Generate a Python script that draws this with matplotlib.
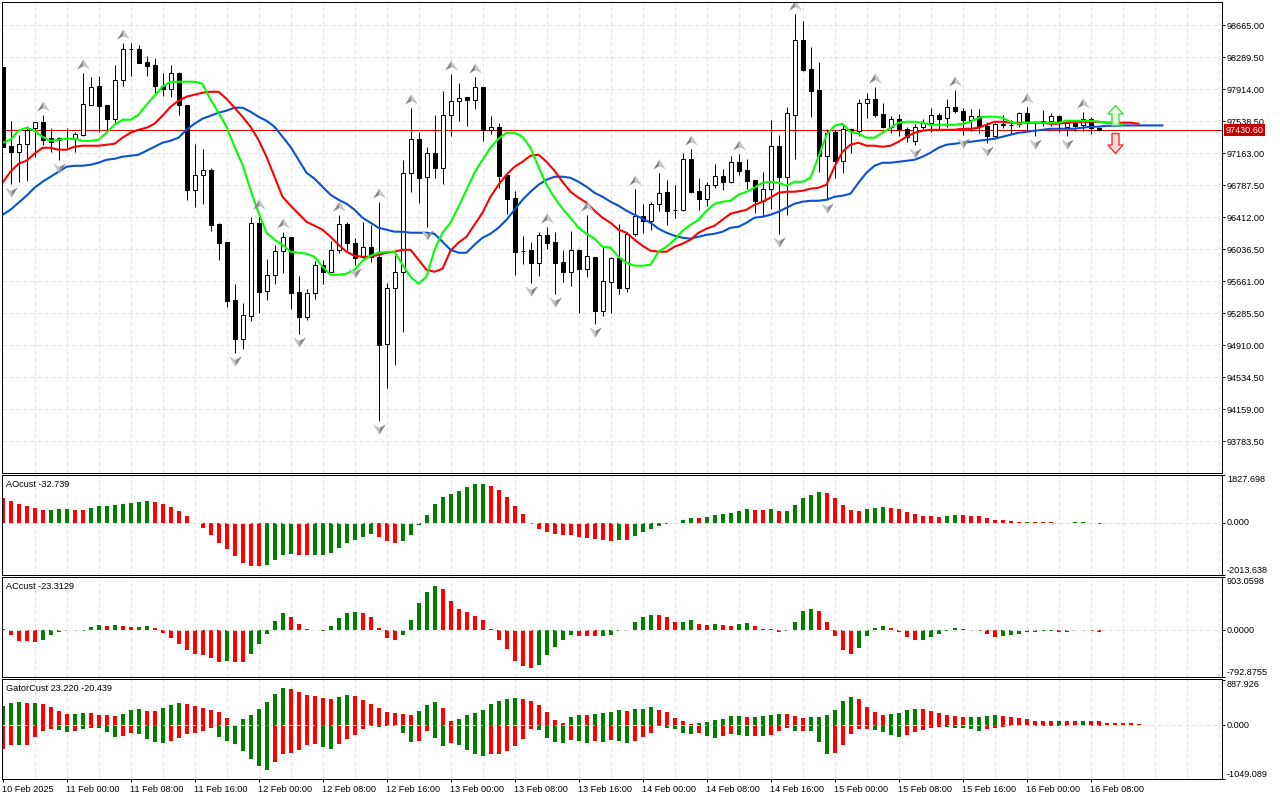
import numpy as np
import matplotlib
matplotlib.use('Agg')
import matplotlib.pyplot as plt
from matplotlib.path import Path

plt.rcParams['font.family'] = ['Liberation Sans', 'DejaVu Sans']

# --- OHLC, hourly bars ---
opens = [
    98177,97250,97179,97273,97461,97531,97344,97320,97340,97332,
    97379,97731,97954,97731,97567,98024,98388,98388,98235,98200,
    97954,97919,98106,97731,96733,96910,96968,96335,96123,95443,
    94985,95255,96346,95548,95736,96018,96182,95537,95243,95525,
    95853,95771,96029,96335,96112,95947,96065,95947,94926,95584,
    95771,96933,97332,96886,97168,96992,97614,97778,97825,97790,
    97942,97437,97473,96910,96640,96018,96029,95877,96205,96123,
    95889,95771,96029,95806,95947,95314,95654,95936,95584,96217,
    96428,96370,96569,96710,96499,96499,97097,96722,96628,96792,
    96898,96827,97062,96968,96851,96604,96745,97250,96886,97614,
    98494,98153,97907,97133,97414,97074,97449,97426,97754,97801,
    97625,97473,97567,97449,97308,97473,97520,97614,97578,97707,
    97661,97555,97602,97484,97367,97496,97496,97508,97637,97520,
    97543,97543,97602,97473,97520,97496,97567,97455]
highs = [
    98177,97543,97379,97484,97531,97614,97461,97355,97461,97414,
    98106,98059,98071,97731,98200,98458,98458,98435,98306,98282,
    98106,98200,98118,97731,97273,97215,96992,96346,96123,95631,
    95408,96417,96464,95924,96088,96241,96182,95724,95572,95900,
    95912,96135,96440,96358,96170,96358,96323,96593,95642,95971,
    97085,97696,97414,97238,97614,97895,98095,97989,97825,98059,
    97942,97602,97520,96910,96722,96194,96123,96241,96299,96241,
    96029,96252,96041,96440,95947,96065,95947,96335,96241,96745,
    96569,96593,96933,96851,96792,97168,97215,96874,96827,97039,
    96980,97133,97156,97097,96851,96945,97555,97379,97707,98799,
    98717,98411,98235,97449,97437,97496,97461,97801,97872,97942,
    97754,97602,97625,97473,97508,97567,97696,97637,97801,97907,
    97696,97684,97684,97531,97520,97614,97555,97649,97707,97543,
    97672,97637,97614,97531,97543,97649,97590,97461]
lows = [
    97238,96804,96827,96839,97121,97262,97179,97085,97226,97179,
    97367,97731,97414,97426,97508,97954,98071,98224,98071,97872,
    97837,97825,97614,96616,96534,96569,96252,95912,95361,94821,
    94868,95196,95290,95443,95631,95760,95337,95044,95208,95455,
    95631,95771,95994,96029,95853,95936,95889,94023,94410,94680,
    95067,96710,96581,96299,96874,96804,97367,97543,97484,97684,
    97308,97391,96757,96452,95736,95865,95642,95724,96041,95513,
    95654,95607,95290,95713,95161,95255,95290,95513,95537,96194,
    96229,96264,96487,96323,96405,96487,96698,96499,96546,96757,
    96733,96816,96910,96745,96464,96417,96511,96217,96440,97097,
    98130,97590,96945,96616,96874,96933,97168,97367,97578,97590,
    97461,97402,97367,97297,97262,97449,97414,97449,97473,97637,
    97379,97426,97402,97285,97344,97461,97391,97473,97414,97367,
    97484,97484,97414,97367,97426,97426,97391,97426]
closes = [
    97238,97179,97273,97437,97531,97320,97297,97344,97336,97391,
    97743,97942,97719,97567,98024,98388,98382,98224,98189,97954,
    97919,98106,97731,96733,96910,96968,96323,96112,95431,94985,
    95267,96346,95537,95736,96018,96182,95525,95243,95525,95853,
    95771,96029,96335,96112,95936,96065,95947,94915,95584,95771,
    96933,97332,96874,97168,96992,97614,97778,97813,97790,97942,
    97437,97473,96898,96628,96006,96012,95877,96205,96112,95877,
    95771,96029,95806,95959,95314,95666,95936,95584,96217,96428,
    96370,96569,96698,96487,96493,97097,96710,96628,96792,96898,
    96827,97062,96957,96839,96604,96745,97250,96886,97637,98494,
    98142,97895,97133,97402,97074,97449,97426,97754,97801,97614,
    97473,97567,97449,97355,97473,97520,97614,97567,97707,97661,
    97555,97602,97484,97367,97508,97502,97490,97637,97520,97514,
    97520,97602,97520,97520,97484,97567,97461,97430.6]

# --- alligator lines ---
lips = [
    97285,97320,97426,97461,97426,97355,97308,97320,97332,97332,
    97308,97308,97320,97402,97496,97555,97555,97614,97731,97837,
    97942,98001,98001,98001,98001,97977,97790,97637,97473,97238,
    97027,96733,96464,96229,96147,96088,96006,95994,95983,95947,
    95830,95736,95736,95748,95795,95900,95959,95994,96006,96006,
    95853,95713,95631,95713,96029,96229,96346,96534,96733,96933,
    97085,97226,97332,97402,97402,97355,97226,97003,96792,96640,
    96511,96405,96288,96217,96159,96065,96053,95947,95877,95842,
    95842,95853,96006,96065,96147,96252,96323,96381,96487,96569,
    96593,96604,96675,96710,96757,96816,96827,96816,96780,96827,
    96827,96874,97121,97379,97484,97508,97414,97391,97344,97344,
    97402,97461,97520,97531,97531,97520,97496,97496,97496,97496,
    97508,97531,97578,97590,97590,97578,97531,97508,97520,97520,
    97520,97520,97520,97543,97543,97543,97543,97531,97520,97520,97496]
teeth = [
    96816,96945,97039,97074,97156,97226,97226,97203,97203,97238,
    97250,97250,97250,97262,97273,97344,97402,97437,97461,97508,
    97602,97707,97778,97825,97848,97872,97883,97883,97801,97696,
    97590,97473,97320,97121,96886,96651,96546,96452,96358,96311,
    96264,96182,96088,96006,95959,95947,95947,95971,95994,96006,
    96029,96029,95912,95795,95771,95806,96018,96112,96182,96323,
    96464,96651,96792,96910,97003,97062,97133,97144,97062,96957,
    96827,96710,96640,96581,96487,96405,96346,96264,96229,96147,
    96076,96018,96006,96006,96065,96100,96147,96229,96276,96311,
    96381,96452,96475,96499,96557,96593,96640,96698,96710,96710,
    96722,96745,96757,96792,97003,97179,97262,97285,97250,97250,
    97238,97250,97297,97355,97402,97426,97437,97437,97437,97437,
    97449,97449,97461,97496,97531,97531,97520,97520,97520,97520,
    97520,97508,97508,97520,97531,97531,97531,97531,97520,97520,97520,97520,97508]
jaw = [
    96440,96499,96581,96663,96757,96827,96886,96945,97003,97015,
    97015,97027,97050,97085,97097,97121,97133,97144,97191,97238,
    97285,97308,97344,97437,97508,97567,97602,97637,97661,97696,
    97696,97649,97590,97543,97473,97355,97238,97085,96933,96863,
    96769,96675,96616,96569,96499,96405,96346,96288,96264,96241,
    96241,96229,96229,96229,96217,96123,96029,95994,95994,96088,
    96170,96217,96288,96381,96499,96616,96710,96792,96851,96886,
    96886,96874,96827,96769,96698,96651,96593,96546,96487,96440,
    96393,96346,96276,96229,96194,96170,96159,96182,96205,96217,
    96241,96288,96299,96346,96405,96417,96440,96475,96522,96569,
    96593,96604,96604,96616,96651,96663,96687,96816,96933,97015,
    97050,97050,97062,97074,97085,97121,97168,97226,97262,97273,
    97285,97297,97308,97320,97332,97355,97379,97402,97414,97426,
    97437,97449,97449,97449,97449,97461,97473,97473,97484,97484,
    97488,97488,97488,97488,97488,97488]

last_price = 97430.60

# --- fractal arrows, signal arrows ---
fractal_up = [5,10,15,32,35,42,47,51,56,59,68,73,79,82,86,92,99,109,119,128,135]
fractal_down = [1,7,29,37,44,47,53,66,69,74,97,103,114,120,123,129,133]
signal_bar = 139
signal_up_price = 97610
signal_down_price = 97280

# --- AO ---
ao_values = [
    964,848,732,655,578,501,501,540,540,501,
    501,578,655,655,694,732,771,810,848,810,
    732,617,463,270,-15,-193,-463,-771,-1002,-1272,
    -1542,-1658,-1658,-1619,-1426,-1234,-1195,-1234,-1234,-1234,
    -1234,-1157,-964,-771,-655,-540,-424,-540,-694,-771,
    -694,-463,-64,308,732,1002,1118,1234,1388,1503,
    1503,1426,1272,1002,655,347,-39,-231,-347,-424,
    -463,-463,-540,-578,-617,-655,-694,-655,-655,-501,
    -347,-231,-116,-26,-20,116,193,193,231,308,
    347,385,463,540,501,501,540,463,463,694,
    964,1079,1195,1157,964,694,501,463,540,578,
    617,578,540,424,347,270,270,231,270,308,
    308,270,270,193,116,116,77,39,39,35,
    35,35,-20,-15,30,30,-15,-32.739]
ao_colors = ("rrrrrrgggr" "rggggggggr" "rrrrrrrrrr" "rrrggggrrg" "gggggggrrr"
             "gggggggggg" "grrrrrrrrr" "rrrrrrrgrg" "gggggggrgg" "ggggrrgrgg"
             "gggrrrrrgg" "grrrrrrrgg" "rrrrrrrrgr" "rrrrggrr")

# --- AC ---
ac_values = [
    28,-85,-187,-187,-204,-170,-85,-34,-10,-8,
    -5,51,85,68,85,68,51,51,68,34,
    -51,-136,-238,-340,-408,-425,-476,-544,-527,-544,
    -544,-408,-238,-68,153,289,221,102,17,7,
    -5,68,204,289,306,289,221,34,-136,-170,
    -85,170,459,646,748,697,493,357,306,238,
    170,17,-170,-323,-527,-612,-646,-595,-425,-289,
    -170,-85,-102,-102,-102,-102,-85,-8,-6,136,
    221,255,255,221,136,136,170,102,85,102,
    85,68,102,119,68,17,17,-34,-8,136,
    323,357,323,136,-102,-340,-408,-306,-102,34,
    68,34,-34,-119,-170,-170,-119,-68,-6,34,
    17,-5,-5,-68,-119,-102,-85,-68,-34,-34,
    -6,-6,-34,-23,-5,-5,-4,-23.3129]
ac_colors = ("rrrrrggggr" "gggrgrrggr" "rrrrrrrrgr" "rgggggrrrr" "gggggrrrrr"
             "gggggrrrrr" "rrrrrrrggg" "ggrrrggggg" "ggrrrggrrg" "rrggrrrrgg"
             "ggrrrrrggg" "grrrrggggg" "rrrrrggggg" "ggrgggrr")

# --- Gator ---
gator_up = [
    381,440,460,440,440,420,361,283,223,223,
    243,243,204,204,184,223,302,322,283,283,
    342,401,440,420,381,342,302,263,145,7,
    125,204,322,460,618,736,716,657,598,578,
    539,519,558,598,578,499,420,342,263,243,
    223,204,283,401,460,342,85,125,204,243,
    302,420,480,519,539,519,480,401,263,105,
    46,164,204,204,223,243,263,302,283,322,
    322,361,302,263,145,85,26,46,66,105,
    125,184,184,164,164,184,204,223,223,184,
    145,164,164,204,302,480,558,519,361,263,
    204,223,243,302,322,322,283,243,204,184,
    164,164,164,184,204,184,164,145,125,85,
    85,85,85,85,85,85,85,85,39,39,39,46,23.22]
gator_up_colors = ("gggrgrrrrg" "grrrrgggrr" "gggrrrrrrg" "ggggggrrrr" "rrggrrrrrr"
                   "rrgggrrggg" "gggggrrrrr" "rggrggggrg" "ggrrrrrggg" "gggrggggrr"
                   "rggggggrrr" "rggggrrrrr" "rggggrrrrr" "rrgrrgrrrrrrr")
gator_down = [
    -466,-388,-388,-388,-230,-112,-72,-92,-131,-112,
    -72,-53,-53,-131,-230,-210,-151,-171,-269,-329,
    -348,-309,-250,-171,-151,-112,-53,-230,-309,-368,
    -506,-664,-802,-880,-723,-565,-545,-486,-388,-368,
    -427,-466,-368,-269,-191,-72,-13,-33,-13,-13,
    -151,-329,-309,-112,-250,-407,-348,-388,-486,-565,
    -604,-565,-565,-506,-407,-269,-72,-92,-250,-329,
    -348,-289,-309,-348,-309,-329,-289,-309,-348,-309,
    -230,-151,-13,-53,-72,-151,-171,-151,-210,-250,
    -210,-171,-191,-210,-210,-210,-191,-112,-53,-112,
    -112,-112,-329,-565,-545,-388,-171,-72,-72,-92,
    -131,-191,-230,-191,-131,-92,-53,-33,-33,-53,
    -53,-72,-112,-72,-53,-33,-13,-13,-20,-20,
    -20,-20,-20,-20,-20,-20,-20,-20.439]
gator_down_colors = ("rrgrrrrggr" "grgggrrggg" "grrrrrrggg" "ggggrrrrrr" "ggrrrrrgrr"
                     "ggrrggrggg" "grrrrrrggg" "grggrgrggr" "rrrggggrgg" "rrggrgrrrg"
                     "rgggrrrrrg" "gggrrrrrgg" "gggrrrrggg" "rgrrgggg")

# --- axis labels ---
price_ticks = [98665.0, 98289.5, 97914.0, 97538.5, 97163.0, 96787.5, 96412.0,
               96036.5, 95661.0, 95285.5, 94910.0, 94534.5, 94159.0, 93783.5]
ao_ticks = [1827.698, 0, -2013.638]
ao_tick_labels = ['1827.698', '0.000', '-2013.638']
ac_ticks = [903.0598, 0, -792.8755]
ac_tick_labels = ['903.0598', '0.0000', '-792.8755']
gator_ticks = [887.926, 0, -1049.089]
gator_tick_labels = ['887.926', '0.000', '-1049.089']
time_ticks = list(range(0, 137, 8))
time_labels = ['10 Feb 2025', '11 Feb 00:00', '11 Feb 08:00', '11 Feb 16:00', '12 Feb 00:00',
               '12 Feb 08:00', '12 Feb 16:00', '13 Feb 00:00', '13 Feb 08:00', '13 Feb 16:00',
               '14 Feb 00:00', '14 Feb 08:00', '14 Feb 16:00', '15 Feb 00:00', '15 Feb 08:00',
               '15 Feb 16:00', '16 Feb 00:00', '16 Feb 08:00']

W, H = 1280, 800
PX = 0.72  # one pixel in points at dpi 100
LABEL_SIZE = 6.6
GRID = '#e2e2e2'
BAR_RED = '#ff0000'
BAR_GREEN = '#008000'
DASH = (0, (4, 3))
XLIM = (-0.025, 152.475)

# arrow shapes used for the fractals
up_left = Path([(0, 0.8), (-1, -0.8), (0, -0.25), (0, 0.8)], closed=True)
up_right = Path([(0, 0.8), (0, -0.25), (1, -0.8), (0, 0.8)], closed=True)
down_left = Path([(0, -0.8), (-1, 0.8), (0, 0.25), (0, -0.8)], closed=True)
down_right = Path([(0, -0.8), (0, 0.25), (1, 0.8), (0, -0.8)], closed=True)
signal_up = Path([(0, 1), (0.75, 0.15), (0.35, 0.15), (0.35, -1), (-0.35, -1), (-0.35, 0.15),
                  (-0.75, 0.15), (0, 1)], closed=True)
signal_down = Path([(0, -1), (0.75, -0.15), (0.35, -0.15), (0.35, 1), (-0.35, 1), (-0.35, -0.15),
                    (-0.75, -0.15), (0, -1)], closed=True)


def add_panel(fig, top, bottom, left=2.3, right=1222.3):
    ax = fig.add_axes([left / W, 1 - bottom / H, (right - left) / W, (bottom - top) / H])
    ax.set_xlim(*XLIM)
    for spine in ax.spines.values():
        spine.set_linewidth(PX)
        spine.set_color('black')
        spine.set_zorder(10)
    ax.yaxis.tick_right()
    ax.tick_params(axis='y', length=2.2, width=PX, pad=1.2, labelsize=LABEL_SIZE, colors='black')
    ax.set_xticks([])
    # vertical grid, every 4 bars
    for x in range(4, 153, 4):
        ax.axvline(x, color=GRID, lw=PX, ls=DASH, zorder=0)
    return ax


def draw_hist(ax, values, colors, width=0.5):
    assert len(values) == len(colors)
    xs = np.arange(len(values))
    cols = [BAR_RED if c == 'r' else BAR_GREEN for c in colors]
    ax.bar(xs, values, width=width, color=cols, linewidth=0, zorder=2)


def set_panel_ticks(ax, ticks, labels):
    ax.set_yticks(ticks)
    ax.set_yticklabels(labels)
    for lbl, va in zip(ax.get_yticklabels(), ['top', 'center', 'bottom']):
        lbl.set_va(va)
    ax.axhline(0, color=GRID, lw=PX, ls=DASH, zorder=3)


def panel_title(ax, text):
    ax.annotate(text, xy=(0, 1), xycoords='axes fraction', xytext=(2.6, -3.4),
                textcoords='offset points', va='top', ha='left', fontsize=LABEL_SIZE, zorder=11)


fig = plt.figure(figsize=(W / 100, H / 100), dpi=100, facecolor='white')

# --- main chart ---
ax = add_panel(fig, 2.3, 473.3)
ax.set_ylim(93406, 98933)
for p in price_ticks:
    ax.axhline(p, color=GRID, lw=PX, ls=DASH, zorder=0)
ax.axhline(last_price, color='#e00000', lw=PX, zorder=1)

xs = np.arange(len(opens))
o, h, l, c = map(np.array, (opens, highs, lows, closes))
assert len(o) == len(h) == len(l) == len(c)
ax.vlines(xs, l, h, color='black', lw=PX, zorder=2)
body_cols = ['white' if cc >= oo else 'black' for oo, cc in zip(o, c)]
ax.bar(xs, np.abs(c - o), bottom=np.minimum(o, c), width=0.5, color=body_cols,
       edgecolor='black', linewidth=PX, zorder=3)

ax.plot(np.arange(len(jaw)), jaw, color='#0a50d2', lw=1.5, zorder=4, solid_joinstyle='round')
ax.plot(np.arange(len(teeth)), teeth, color='#ff0000', lw=1.5, zorder=5, solid_joinstyle='round')
ax.plot(np.arange(len(lips)), lips, color='#00ff00', lw=1.5, zorder=6, solid_joinstyle='round')

up_y = h[fractal_up] + 106
down_y = l[fractal_down] - 94
ax.scatter(fractal_up, up_y, marker=up_left, s=85, color='#8a8a8a', linewidths=0, zorder=7)
ax.scatter(fractal_up, up_y, marker=up_right, s=85, color='#c2c6cc', linewidths=0, zorder=7)
ax.scatter(fractal_down, down_y, marker=down_left, s=85, color='#c2c6cc', linewidths=0, zorder=7)
ax.scatter(fractal_down, down_y, marker=down_right, s=85, color='#8a8a8a', linewidths=0, zorder=7)

ax.scatter([signal_bar], [signal_up_price], marker=signal_up, s=207, facecolor='#eafbe6',
           edgecolor='#45dc45', linewidths=1.0, zorder=8)
ax.scatter([signal_bar], [signal_down_price], marker=signal_down, s=207, facecolor='#ffdcdc',
           edgecolor='#ff2a2a', linewidths=1.0, zorder=8)

ax.set_yticks(price_ticks)
ax.set_yticklabels([f'{p:.2f}' for p in price_ticks])
ax.annotate(f'{last_price:.2f}', xy=(1, last_price), xycoords=ax.get_yaxis_transform(),
            xytext=(2.4, 0), textcoords='offset points', va='center', ha='left',
            fontsize=LABEL_SIZE, color='white', annotation_clip=False, zorder=20,
            bbox=dict(boxstyle='square,pad=0.18', fc='#c40000', ec='none'))

# --- AO ---
ax1 = add_panel(fig, 475.3, 575.3)
ax1.set_ylim(-2016, 1835)
draw_hist(ax1, ao_values, ao_colors)
set_panel_ticks(ax1, ao_ticks, ao_tick_labels)
panel_title(ax1, 'AOcust -32.739')

# --- AC ---
ax2 = add_panel(fig, 577.3, 677.3)
ax2.set_ylim(-797, 903.5)
draw_hist(ax2, ac_values, ac_colors)
set_panel_ticks(ax2, ac_ticks, ac_tick_labels)
panel_title(ax2, 'ACcust -23.3129')

# --- Gator ---
ax3 = add_panel(fig, 679.3, 779.3)
ax3.set_ylim(-1064, 902)
draw_hist(ax3, gator_up, gator_up_colors)
draw_hist(ax3, gator_down, gator_down_colors)
set_panel_ticks(ax3, gator_ticks, gator_tick_labels)
panel_title(ax3, 'GatorCust 23.220 -20.439')
ax3.set_xticks(time_ticks)
ax3.set_xticklabels(time_labels, ha='left')
ax3.tick_params(axis='x', length=2.2, width=PX, pad=2.2, labelsize=LABEL_SIZE)

fig.savefig('out.png', dpi=100, facecolor='white')
